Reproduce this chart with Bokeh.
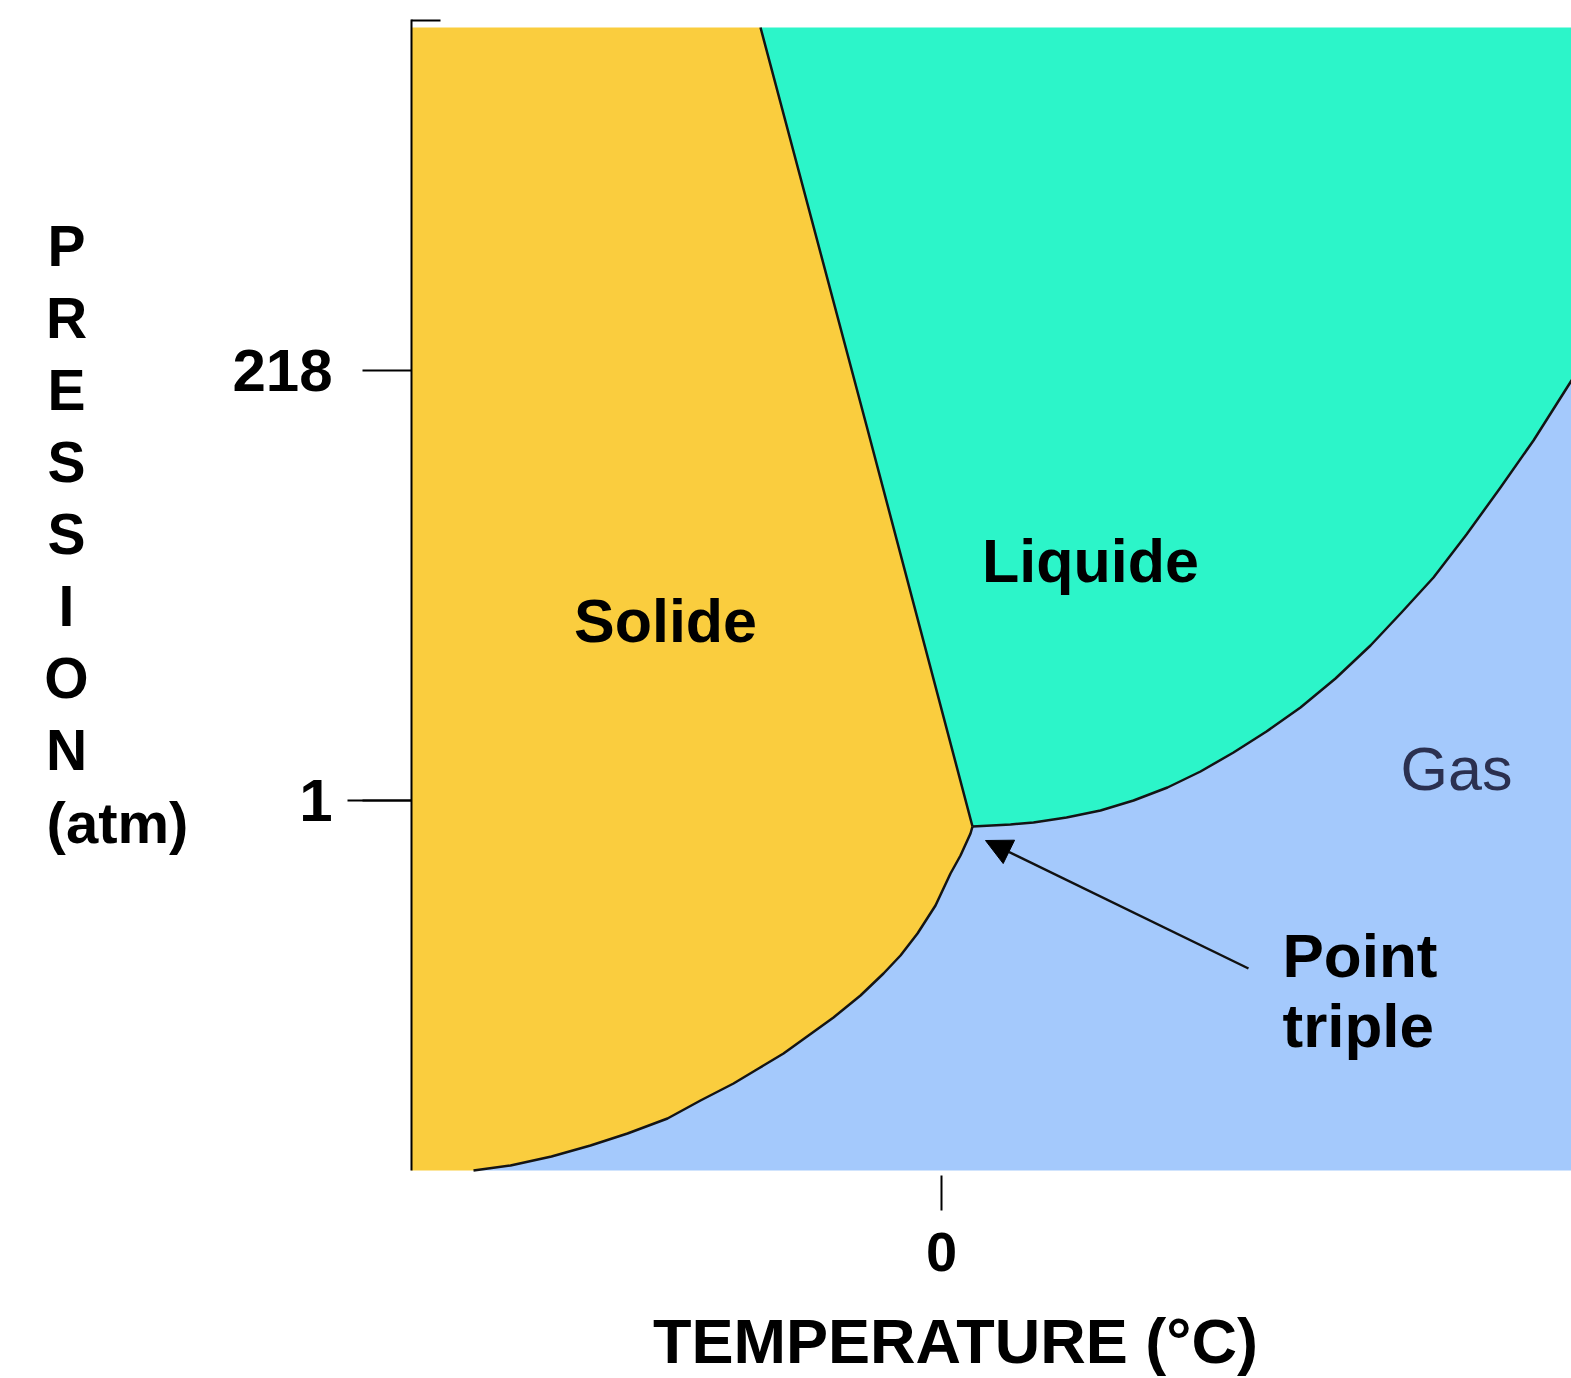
import numpy as np
from bokeh.plotting import figure
from bokeh.models import FixedTicker, Label, Arrow, NormalHead
from bokeh.embed import file_html
from bokeh.resources import INLINE

# ---- schematic data (temperature / pressure in diagram units) ----
# solid–liquid (fusion) line, from top of chart down to the triple point
SL_T = [-181, -75, 31]
SL_P = [1143, 745, 344]
# liquid–gas (vaporisation) curve, from the triple point to the right edge
LG_T = [31, 50, 69, 92, 125, 159, 192, 226, 259, 292, 325, 359, 394, 429, 460, 492, 525, 559, 592, 630, 660]
LG_P = [344, 345, 346, 348, 353, 360, 370, 383, 399, 418, 439, 463, 492, 525, 558, 593, 636, 683, 730, 790, 840]
# solid–gas (sublimation) curve, from the triple point down to the bottom
SG_T = [31, 29, 24, 19, 9, -6, -24, -41, -58, -81, -108, -133, -158, -183, -208, -241, -274, -314, -351, -390, -431, -468]
SG_P = [344, 337, 326, 315, 297, 265, 237, 215, 197, 175, 153, 135, 117, 102, 87, 70, 52, 37, 25, 14, 5, 0]

TRIPLE = (31, 344)
P_TICK_POS = [800, 370]
P_TICK_LABELS = ["218", "1"]
T_TICK_POS = [0]
T_TICK_LABELS = ["0"]
P_TITLE_LETTERS = ["P", "R", "E", "S", "S", "I", "O", "N"]
P_UNIT = "(atm)"
T_TITLE = "TEMPERATURE (°C)"

# diagram extents (schematic units)
T_AXIS, T_RIGHT = -530, 630
P_AXIS_LOW, P_AXIS_TOP, P_FILL_TOP = 0, 1151, 1143
VIEW_T = (-941, 630)
VIEW_P = (-208, 1170)

FONT = "Liberation Sans"
SOLID_C = "#FACD3E"
LIQUID_C = "#2CF5C9"
GAS_C = "#A4C9FC"

p = figure(width=1571, height=1378, x_range=VIEW_T, y_range=VIEW_P,
           output_backend="svg", toolbar_location=None,
           min_border_left=0, min_border_right=0, min_border_top=0, min_border_bottom=0)
p.outline_line_color = None
p.xgrid.visible = False
p.ygrid.visible = False
p.background_fill_color = "white"
p.border_fill_color = "white"

sl_t, sl_p = np.array(SL_T), np.array(SL_P)
lg_t, lg_p = np.array(LG_T), np.array(LG_P)
sg_t, sg_p = np.array(SG_T), np.array(SG_P)
LOW = P_AXIS_LOW
RIGHT = lg_t[-1]

# Solid region
sol_x = np.concatenate([[T_AXIS], sl_t, sg_t[1:], [T_AXIS]])
sol_y = np.concatenate([[P_FILL_TOP], sl_p, sg_p[1:], [LOW]])
p.patch(sol_x, sol_y, fill_color=SOLID_C, line_color=None)

# Liquid region
liq_x = np.concatenate([[sl_t[0], RIGHT], lg_t[::-1], sl_t[::-1][1:]])
liq_y = np.concatenate([[P_FILL_TOP, P_FILL_TOP], lg_p[::-1], sl_p[::-1][1:]])
p.patch(liq_x, liq_y, fill_color=LIQUID_C, line_color=None)

# Gas region
gas_x = np.concatenate([lg_t, [RIGHT, sg_t[-1]], sg_t[::-1][1:]])
gas_y = np.concatenate([lg_p, [LOW, LOW], sg_p[::-1][1:]])
p.patch(gas_x, gas_y, fill_color=GAS_C, line_color=None)

# Phase boundaries
for tx, py in ((sl_t, sl_p), (lg_t, lg_p), (sg_t, sg_p)):
    p.line(tx, py, line_color="#141414", line_width=2.5, line_join="round")

# top bracket of the pressure axis
p.segment(x0=[T_AXIS], y0=[P_AXIS_TOP - 1], x1=[T_AXIS + 29], y1=[P_AXIS_TOP - 1],
          line_color="black", line_width=2)

# pressure axis
ya = p.yaxis[0]
ya.fixed_location = T_AXIS
ya.bounds = (P_AXIS_LOW, P_AXIS_TOP)
ya.ticker = FixedTicker(ticks=P_TICK_POS, minor_ticks=[P_TICK_POS[1]])
ya.major_label_overrides = {v: s for v, s in zip(P_TICK_POS, P_TICK_LABELS)}
ya.axis_line_color = "black"
ya.axis_line_width = 2
ya.major_tick_in = 0
ya.major_tick_out = 49
ya.minor_tick_in = 0
ya.minor_tick_out = 64
ya.major_tick_line_width = 2
ya.minor_tick_line_width = 2
ya.major_tick_line_color = "black"
ya.minor_tick_line_color = "black"
ya.major_label_standoff = 15
ya.major_label_text_font = FONT
ya.major_label_text_font_style = "bold"
ya.major_label_text_font_size = "60px"
ya.major_label_text_color = "black"

# temperature axis
xa = p.xaxis[0]
xa.fixed_location = P_AXIS_LOW
xa.bounds = (T_AXIS, T_RIGHT)
xa.ticker = FixedTicker(ticks=T_TICK_POS, minor_ticks=[])
xa.major_label_overrides = {v: s for v, s in zip(T_TICK_POS, T_TICK_LABELS)}
xa.axis_line_color = None
xa.major_tick_in = -5
xa.major_tick_out = 40
xa.major_tick_line_width = 2
xa.major_tick_line_color = "black"
xa.minor_tick_line_color = None
xa.major_label_standoff = 22
xa.major_label_text_font = FONT
xa.major_label_text_font_style = "bold"
xa.major_label_text_font_size = "56px"
xa.major_label_text_color = "black"

def lab(x, y, text, size="61px", style="bold", color="black", align="center", baseline="middle"):
    p.add_layout(Label(x=x, y=y, text=text, text_font=FONT, text_font_style=style,
                       text_font_size=size, text_color=color, text_align=align,
                       text_baseline=baseline))

# axis titles
for i, ch in enumerate(P_TITLE_LETTERS):
    lab(-875, 925 - i * 72, ch, size="57px")
lab(-824, 348, P_UNIT, size="58px")
lab(14, -170, T_TITLE, size="63px")

# region labels
lab(-276, 550, "Solide")
lab(149, 610, "Liquide")
lab(515, 402, "Gas", style="normal", color="#2b3050")
lab(341, 215, "Point", size="62px", align="left")
lab(341, 145, "triple", size="62px", align="left")

# arrow to triple point
p.add_layout(Arrow(end=NormalHead(size=26, fill_color="black", line_color="black"),
                   x_start=307, y_start=202, x_end=TRIPLE[0] + 13, y_end=TRIPLE[1] - 14,
                   line_width=2.5, line_color="#111111"))

open("out.html", "w").write(file_html(p, INLINE))
